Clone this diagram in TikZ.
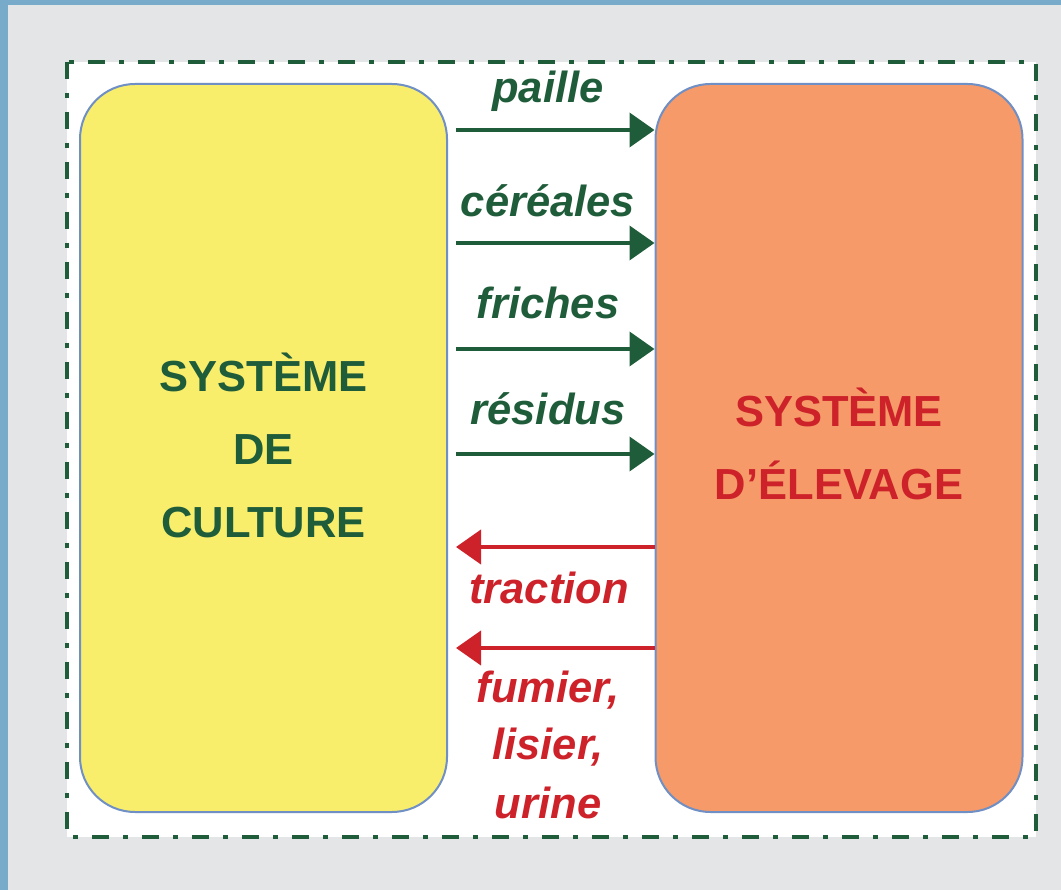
\documentclass[tikz,border=0pt]{standalone}
\usepackage{fontspec}
\setmainfont{Liberation Sans}
\usetikzlibrary{arrows.meta,calc}
\definecolor{bgc}{HTML}{E4E5E7}
\definecolor{bluebar}{HTML}{78AACA}
\definecolor{frame}{HTML}{1F5C3A}
\definecolor{gtext}{HTML}{1F5C3A}
\definecolor{rtext}{HTML}{CD2229}
\definecolor{yel}{HTML}{F8EE6C}
\definecolor{ora}{HTML}{F59A68}
\definecolor{outl}{HTML}{6F8FC5}
\tikzset{
  sysbox/.style={draw=outl, line width=2pt, rounded corners=55pt, minimum width=367pt, minimum height=728pt, inner sep=0pt},
  boxtxt/.style={anchor=base, inner sep=0pt, font=\fontsize{43.5}{52}\selectfont\bfseries},
  lab/.style={anchor=base, inner sep=0pt, font=\fontsize{43.5}{52}\selectfont\bfseries\itshape},
  garr/.style={draw=gtext, line width=4pt, -{Triangle[length=25pt,width=34pt]}},
  rarr/.style={draw=rtext, line width=4pt, -{Triangle[length=25pt,width=34pt]}}
}
\begin{document}
\begin{tikzpicture}[x=1pt,y=-1pt]
\fill[bgc] (0,0) rectangle (1061,890);
\fill[bluebar] (0,0) rectangle (1061,5);
\fill[bluebar] (0,0) rectangle (8,890);
\useasboundingbox (0,0) rectangle (1061,890);
\draw[frame, fill=white, line width=4pt, dash pattern=on 17pt off 14pt on 5pt off 14pt] (67,62) rectangle (1036,837);
\node[sysbox, fill=yel] (cult) at (263.5,448) {};
\node[sysbox, fill=ora] (elev) at (839,448) {};
\node[boxtxt, text=gtext] (c1) at (263.5,392) {SYSTÈME};
\node[boxtxt, text=gtext] (c2) at (263.5,464.5) {DE};
\node[boxtxt, text=gtext] (c3) at (263.5,537) {CULTURE};
\node[boxtxt, text=rtext] (e1) at (839,427) {SYSTÈME};
\node[boxtxt, text=rtext] (e2) at (839,500) {D’ÉLEVAGE};
% green arrows
\draw[garr] ($(cult.east|-0,130)+(8,0)$) -- (elev.west|-0,130);
\draw[garr] ($(cult.east|-0,243)+(8,0)$) -- (elev.west|-0,243);
\draw[garr] ($(cult.east|-0,349)+(8,0)$) -- (elev.west|-0,349);
\draw[garr] ($(cult.east|-0,454)+(8,0)$) -- (elev.west|-0,454);
\node[lab, text=gtext] (l1) at (548,103) {paille};
\node[lab, text=gtext] (l2) at (548,217) {céréales};
\node[lab, text=gtext] (l3) at (548,319) {friches};
\node[lab, text=gtext] (l4) at (548,425) {résidus};
% red arrows
\draw[rarr] (elev.west|-0,547) -- ($(cult.east|-0,547)+(8,0)$);
\draw[rarr] (elev.west|-0,648) -- ($(cult.east|-0,648)+(8,0)$);
\node[lab, text=rtext] (l5) at (549,603) {traction};
\node[lab, text=rtext] (l6) at (548,702) {fumier,};
\node[lab, text=rtext] (l7) at (548,759) {lisier,};
\node[lab, text=rtext] (l8) at (548,818) {urine};
\end{tikzpicture}
\end{document}
